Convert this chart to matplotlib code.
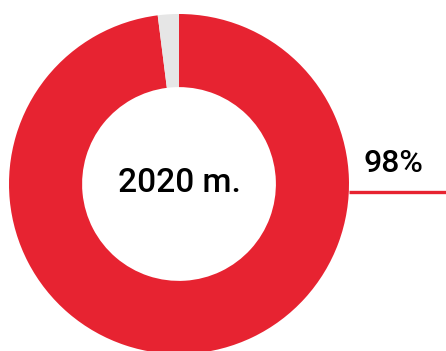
import matplotlib
matplotlib.use("Agg")
import matplotlib.pyplot as plt

# data
labels = ["2020 m.", ""]
values = [98, 2]
colors = ["#E72331", "#E6E6E6"]
center_label = "2020 m."
value_label = "98%"

W, H = 446, 351
fig = plt.figure(figsize=(W / 100, H / 100), dpi=100)
ax = fig.add_axes([0, 0, 1, 1])

cx, cy, r = 179, H - 184, 170
ax.pie(values, colors=colors, startangle=90, counterclock=False,
       center=(cx, cy), radius=r, frame=True,
       wedgeprops=dict(width=r * 0.43, linewidth=0))
ax.set_xlim(0, W)
ax.set_ylim(0, H)
ax.set_aspect("equal")
ax.axis("off")

ax.text(cx, H - 180, center_label, ha="center", va="center_baseline",
        fontsize=24, fontweight="medium", family="Roboto", color="black")

# leader line and label
ax.plot([cx + r, W], [H - 192, H - 192], color=colors[0], lw=2.4,
        solid_capstyle="butt")
ax.text(393, H - 160, value_label, ha="center", va="center_baseline",
        fontsize=23, fontweight="medium", family="Roboto", color="black")

fig.savefig("out.png", dpi=100)
